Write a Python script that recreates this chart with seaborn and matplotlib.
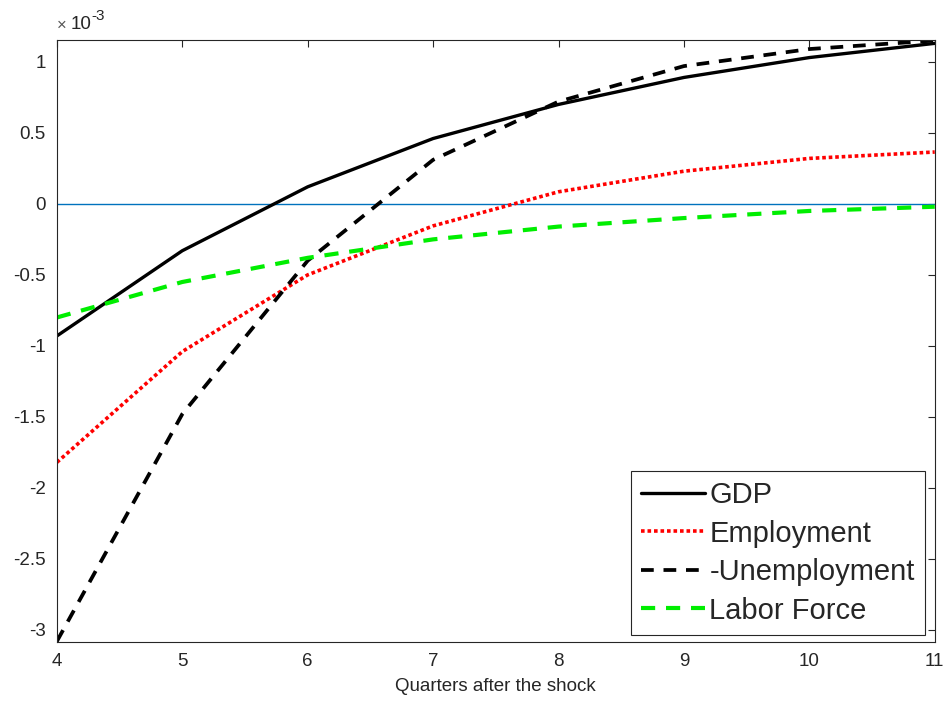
import numpy as np
import pandas as pd
import matplotlib
matplotlib.use('Agg')
import matplotlib.pyplot as plt
import seaborn as sns
from matplotlib.ticker import FuncFormatter

# impulse responses, in units of 1e-3
quarters = [4, 5, 6, 7, 8, 9, 10, 11]
gdp = [-0.93, -0.33, 0.12, 0.46, 0.70, 0.89, 1.03, 1.13]
employment = [-1.82, -1.04, -0.50, -0.155, 0.085, 0.23, 0.32, 0.365]
neg_unemployment = [-3.08, -1.48, -0.40, 0.31, 0.72, 0.97, 1.09, 1.15]
labor_force = [-0.80, -0.55, -0.38, -0.25, -0.16, -0.10, -0.05, -0.02]

series = {
    'GDP': gdp,
    'Employment': employment,
    '-Unemployment': neg_unemployment,
    'Labor Force': labor_force,
}
df = pd.DataFrame([(name, q, v) for name, vals in series.items() for q, v in zip(quarters, vals)],
                  columns=['series', 'quarter', 'value'])

sns.set_style('white')
plt.rcParams['font.family'] = ['Liberation Sans', 'DejaVu Sans']
plt.rcParams['axes.unicode_minus'] = False

fig = plt.figure(figsize=(9.48, 7.11), dpi=100)
ax = fig.add_axes([0.060, 0.097, 0.926, 0.847])

ax.axhline(0, color='#0072BD', lw=1.0, zorder=1)

styles = {
    'GDP': dict(color='black', ls='-', lw=2.4),
    'Employment': dict(color='red', ls=(0, (1, 0.8)), lw=2.6),
    '-Unemployment': dict(color='black', ls=(0, (3.4, 2.6)), lw=2.7),
    'Labor Force': dict(color='#00ee00', ls=(0, (3.4, 2.6)), lw=3.0),
}
for name in series:
    sub = df[df['series'] == name]
    sns.lineplot(data=sub, x='quarter', y='value', ax=ax, label=name, **styles[name])

ax.set_xlim(4, 11)
ax.set_ylim(-3.085, 1.155)
ax.set_xticks(quarters)
ax.set_yticks([-3, -2.5, -2, -1.5, -1, -0.5, 0, 0.5, 1])
ax.yaxis.set_major_formatter(FuncFormatter(lambda v, p: f'{v:g}'))
ax.tick_params(direction='in', top=True, right=True, length=5, width=0.8,
               colors='#262626', labelsize=13.5, pad=8)
for s in ax.spines.values():
    s.set_color('#262626')
    s.set_linewidth(0.8)

ax.set_xlabel('Quarters after the shock', fontsize=13.5, color='#262626', labelpad=6)
ax.set_ylabel('')
# exponent label in the MATLAB style
ax.annotate('\u00d7', xy=(0, 1), xycoords='axes fraction', xytext=(0, 5),
            textcoords='offset points', fontsize=12, color='#555555', ha='left', va='bottom')
ax.annotate('10', xy=(0, 1), xycoords='axes fraction', xytext=(10, 5),
            textcoords='offset points', fontsize=13.5, color='#262626', ha='left', va='bottom')
ax.annotate('-3', xy=(0, 1), xycoords='axes fraction', xytext=(25, 12),
            textcoords='offset points', fontsize=11, color='#262626', ha='left', va='bottom')

leg = ax.legend(loc='lower right', bbox_to_anchor=(0.989, 0.012), fontsize=21,
                frameon=True, fancybox=False, edgecolor='#262626', framealpha=1,
                handlelength=2.2, handletextpad=0.15, borderpad=0.35, labelspacing=0.36,
                borderaxespad=0)
leg.get_frame().set_linewidth(0.8)

plt.savefig('out.png', dpi=100)
